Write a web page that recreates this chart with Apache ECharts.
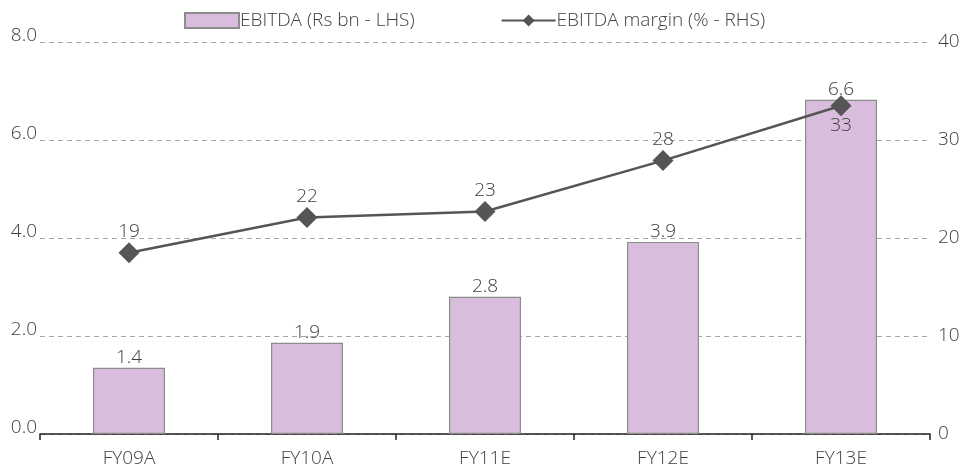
<!DOCTYPE html>
<html>
<head>
<meta charset="utf-8">
<script src="https://cdn.jsdelivr.net/npm/echarts@6/dist/echarts.min.js"></script>
<style>
  html, body { margin: 0; padding: 0; background: #fff; }
  #box { width: 980px; height: 475px; }
</style>
</head>
<body>
<div id="box"></div>
<script>
const categories = ['FY09A', 'FY10A', 'FY11E', 'FY12E', 'FY13E']
// bar heights as drawn, and the labels printed on them
const ebitda = [1.35, 1.86, 2.8, 3.92, 6.82]
const ebitdaLabels = ['1.4', '1.9', '2.8', '3.9', '6.6']
const margin = [18.5, 22.1, 22.7, 27.9, 33.5]
const marginLabels = ['19', '22', '23', '28', '33']
const leftTicks = [0, 2, 4, 6, 8]
const rightTicks = [0, 10, 20, 30, 40]

const font = '"Open Sans", Lato, sans-serif'
const textColor = '#404040'
const fw = 300
const fs = 19

const myChart = echarts.init(document.getElementById('box'))

const option = {
  animation: false,
  textStyle: { fontFamily: font, fontWeight: fw },
  legend: {
    top: 6,
    left: 179,
    itemGap: 86,
    itemWidth: 54,
    itemHeight: 15,
    textStyle: { fontSize: fs, color: textColor, fontFamily: font, fontWeight: fw, padding: [0, 0, 0, -4] },
    data: [
      { name: 'EBITDA (Rs bn - LHS)', icon: 'rect' },
      { name: 'EBITDA margin (% - RHS)' }
    ]
  },
  grid: { left: 40, right: 50, top: 42, bottom: 41 },
  xAxis: {
    type: 'category',
    data: categories,
    axisLine: { lineStyle: { color: '#222', width: 1.5 } },
    axisTick: { show: true, length: 6, lineStyle: { color: '#222', width: 1.5 } },
    axisLabel: { fontSize: fs, color: textColor, margin: 15, fontFamily: font, fontWeight: fw }
  },
  yAxis: [
    {
      type: 'value',
      min: leftTicks[0],
      max: leftTicks[leftTicks.length - 1],
      interval: 2,
      axisLine: { show: false },
      axisTick: { show: false },
      axisLabel: {
        fontSize: fs, color: textColor, margin: 3, verticalAlign: 'bottom', fontFamily: font, fontWeight: fw,
        lineHeight: 12,
        formatter: v => v.toFixed(1)
      },
      splitLine: { show: true, lineStyle: { color: '#a6a6a6', type: [5, 4], width: 1 } }
    },
    {
      type: 'value',
      min: rightTicks[0],
      max: rightTicks[rightTicks.length - 1],
      interval: 10,
      axisLine: { show: false },
      axisTick: { show: false },
      axisLabel: { fontSize: fs, color: textColor, margin: 8, fontFamily: font, fontWeight: fw },
      splitLine: { show: false }
    }
  ],
  series: [
    {
      name: 'EBITDA (Rs bn - LHS)',
      type: 'bar',
      yAxisIndex: 0,
      barWidth: 72,
      itemStyle: { color: '#d9bddc', borderColor: '#8c8c8c', borderWidth: 1.2 },
      label: {
        show: true, position: 'top', distance: 1, fontSize: fs, color: textColor, fontFamily: font, fontWeight: fw,
        formatter: p => ebitdaLabels[p.dataIndex]
      },
      data: ebitda,
      z: 2
    },
    {
      name: 'EBITDA margin (% - RHS)',
      type: 'line',
      yAxisIndex: 1,
      symbol: 'diamond',
      symbolSize: 21,
      lineStyle: { color: '#555555', width: 2.5 },
      itemStyle: { color: '#555555' },
      label: {
        show: true, position: 'top', distance: 1, fontSize: fs, color: textColor, fontFamily: font, fontWeight: fw,
        formatter: p => marginLabels[p.dataIndex]
      },
      data: margin.map((v, i) => i === margin.length - 1
        ? { value: v, label: { position: 'bottom', distance: 0 } }
        : v),
      z: 5
    }
  ]
}

myChart.setOption(option)
</script>
</body>
</html>
